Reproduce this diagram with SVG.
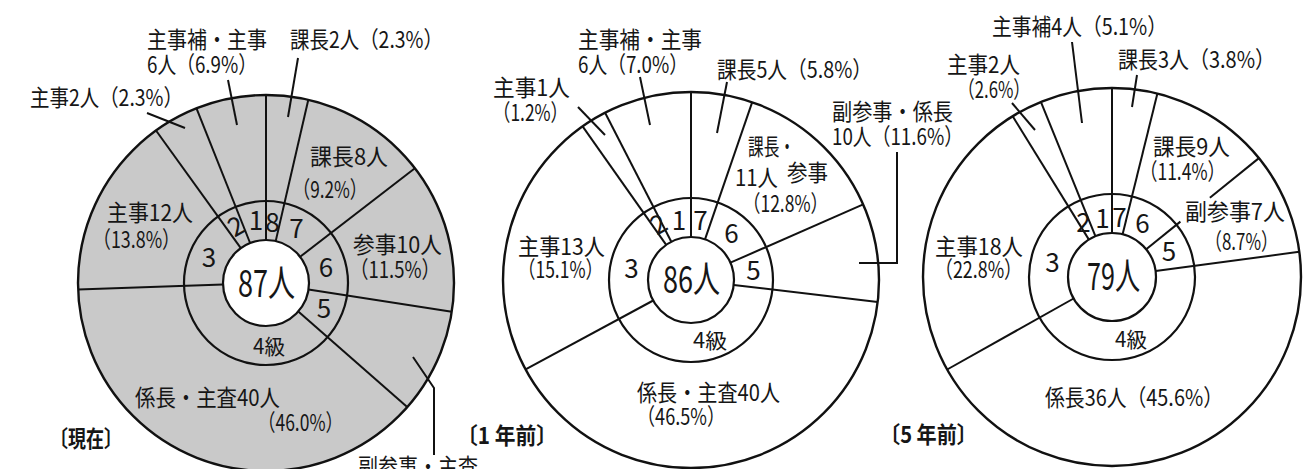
<svg xmlns="http://www.w3.org/2000/svg" width="1307" height="469" viewBox="0 0 1307 469">
<style>
text{font-family:"Noto Sans CJK JP","Noto Sans CJK SC",sans-serif;fill:#161616}
.lb{font-size:23px}
.g{font-size:26px;text-anchor:middle}
.c{font-size:37px}
.k{font-size:21px}
.t{font-size:23px;font-weight:bold}
.ring{fill:none;stroke:#111;stroke-width:2.2}
.ln{stroke:#111;stroke-width:2;fill:none}
</style>
<rect width="1307" height="469" fill="#fff"/>

<g id="chart-now">
<circle cx="266" cy="283" r="188" fill="#c9c9c9" stroke="#111" stroke-width="2.4"/>
<circle cx="266" cy="283" r="82" class="ring"/>
<circle cx="266" cy="283" r="43" fill="#fff" stroke="#111" stroke-width="2.2"/>
<g id="lines-now" class="ln">
<line x1="266" y1="240" x2="266" y2="95"/>
<line x1="275.7" y1="241.1" x2="308.3" y2="99.8"/>
<line x1="300.1" y1="256.8" x2="414.9" y2="168.3"/>
<line x1="308.5" y1="289.6" x2="451.8" y2="311.8"/>
<line x1="298.3" y1="311.4" x2="407.2" y2="407.1"/>
<line x1="223" y1="284.5" x2="78.1" y2="289.6"/>
<line x1="240.8" y1="248.1" x2="156" y2="130.5"/>
<line x1="250.1" y1="243" x2="196.5" y2="108.3"/>
<line x1="147" y1="113" x2="185" y2="128"/>
<line x1="228" y1="80" x2="237" y2="125"/>
<line x1="298" y1="58" x2="288" y2="117"/>
<polyline points="413,357 434,388 434,455"/>
</g>
<text class="lb" x="147" y="48" textLength="120" lengthAdjust="spacingAndGlyphs">主事補・主事</text>
<text class="lb" x="147" y="73" textLength="110" lengthAdjust="spacingAndGlyphs">6人（6.9%）</text>
<text class="lb" x="290" y="48" textLength="153" lengthAdjust="spacingAndGlyphs">課長2人（2.3%）</text>
<text class="lb" x="30" y="106" textLength="153" lengthAdjust="spacingAndGlyphs">主事2人（2.3%）</text>
<text class="lb" x="310" y="165" textLength="78" lengthAdjust="spacingAndGlyphs">課長8人</text>
<text class="lb" x="293" y="198" textLength="74" lengthAdjust="spacingAndGlyphs">（9.2%）</text>
<text class="lb" x="107" y="221" textLength="86" lengthAdjust="spacingAndGlyphs">主事12人</text>
<text class="lb" x="93" y="248" textLength="87" lengthAdjust="spacingAndGlyphs">（13.8%）</text>
<text class="lb" x="353" y="253" textLength="89" lengthAdjust="spacingAndGlyphs">参事10人</text>
<text class="lb" x="350" y="278" textLength="90" lengthAdjust="spacingAndGlyphs">（11.5%）</text>
<text class="lb" x="135" y="406" textLength="145" lengthAdjust="spacingAndGlyphs">係長・主査40人</text>
<text class="lb" x="258" y="431" textLength="85" lengthAdjust="spacingAndGlyphs">（46.0%）</text>
<text class="lb" x="358" y="475" textLength="120" lengthAdjust="spacingAndGlyphs">副参事・主査</text>
<text class="t" x="50" y="447" textLength="72" lengthAdjust="spacingAndGlyphs">〔現在〕</text>
<text class="g" x="236" y="235.5" transform="rotate(-30 236 226)">2</text>
<text class="g" x="256" y="230">1</text>
<text class="g" x="272.5" y="232">8</text>
<text class="g" x="296.5" y="238">7</text>
<text class="g" x="326" y="277">6</text>
<text class="g" x="324" y="318">5</text>
<text class="g" x="209" y="267">3</text>
<text class="c" x="238" y="297" textLength="57" lengthAdjust="spacingAndGlyphs">87人</text>
<text class="k" x="253" y="354" textLength="32" lengthAdjust="spacingAndGlyphs">4級</text>
</g>

<g id="chart-1y">
<circle cx="691" cy="280" r="188" fill="#fff" stroke="#111" stroke-width="2.4"/>
<circle cx="691" cy="280" r="82" class="ring"/>
<circle cx="691" cy="280" r="43" class="ring"/>
<g id="lines-1y" class="ln">
<line x1="691" y1="237" x2="691" y2="92"/>
<line x1="705" y1="239.3" x2="752.2" y2="102.2"/>
<line x1="730.4" y1="262.7" x2="863.2" y2="204.4"/>
<line x1="733.7" y1="285" x2="877.7" y2="301.9"/>
<line x1="653.2" y1="300.5" x2="525.6" y2="369.4"/>
<line x1="666.2" y1="244.9" x2="582.6" y2="126.4"/>
<line x1="671.3" y1="241.8" x2="605.1" y2="112.8"/>
<line x1="640" y1="77" x2="650" y2="125"/>
<line x1="727" y1="82" x2="717" y2="133"/>
<line x1="578" y1="107" x2="605" y2="135"/>
<polyline points="897,152 897,263 859,263"/>
</g>
<text class="lb" x="578" y="48" textLength="124" lengthAdjust="spacingAndGlyphs">主事補・主事</text>
<text class="lb" x="578" y="73" textLength="110" lengthAdjust="spacingAndGlyphs">6人（7.0%）</text>
<text class="lb" x="717" y="78" textLength="155" lengthAdjust="spacingAndGlyphs">課長5人（5.8%）</text>
<text class="lb" x="493" y="96" textLength="77" lengthAdjust="spacingAndGlyphs">主事1人</text>
<text class="lb" x="493" y="121" textLength="75" lengthAdjust="spacingAndGlyphs">（1.2%）</text>
<text class="lb" x="832" y="120" textLength="121" lengthAdjust="spacingAndGlyphs">副参事・係長</text>
<text class="lb" x="832" y="145" textLength="131" lengthAdjust="spacingAndGlyphs">10人（11.6%）</text>
<text class="lb" x="748" y="155" textLength="47" lengthAdjust="spacingAndGlyphs">課長・</text>
<text class="lb" x="735" y="186" textLength="43" lengthAdjust="spacingAndGlyphs">11人</text>
<text class="lb" x="787" y="181" textLength="41" lengthAdjust="spacingAndGlyphs">参事</text>
<text class="lb" x="743" y="212" textLength="85" lengthAdjust="spacingAndGlyphs">（12.8%）</text>
<text class="lb" x="518" y="255" textLength="87" lengthAdjust="spacingAndGlyphs">主事13人</text>
<text class="lb" x="518" y="278" textLength="85" lengthAdjust="spacingAndGlyphs">（15.1%）</text>
<text class="lb" x="637" y="401" textLength="143" lengthAdjust="spacingAndGlyphs">係長・主査40人</text>
<text class="lb" x="637" y="425" textLength="88" lengthAdjust="spacingAndGlyphs">（46.5%）</text>
<text class="t" x="457" y="444" textLength="100" lengthAdjust="spacingAndGlyphs">〔1 年前〕</text>
<text class="g" x="658.5" y="233.5" transform="rotate(-30 658.5 224)">2</text>
<text class="g" x="679" y="230">1</text>
<text class="g" x="700.5" y="230">7</text>
<text class="g" x="731.5" y="243">6</text>
<text class="g" x="753.5" y="280">5</text>
<text class="g" x="631.5" y="278">3</text>
<text class="c" x="663" y="293" textLength="57" lengthAdjust="spacingAndGlyphs">86人</text>
<text class="k" x="693" y="348" textLength="34" lengthAdjust="spacingAndGlyphs">4級</text>
</g>

<g id="chart-5y">
<circle cx="1112" cy="277" r="189" fill="#fff" stroke="#111" stroke-width="2.4"/>
<circle cx="1112" cy="277" r="83" class="ring"/>
<circle cx="1112" cy="277" r="44" class="ring"/>
<g id="lines-5y" class="ln">
<line x1="1112" y1="233" x2="1112" y2="88"/>
<line x1="1122.6" y1="234.3" x2="1157.4" y2="93.5"/>
<line x1="1146.2" y1="249.3" x2="1180.4" y2="221.6"/>
<line x1="1209.9" y1="197.7" x2="1258.9" y2="158.1"/>
<line x1="1155.6" y1="271.1" x2="1299.3" y2="251.7"/>
<line x1="1073.6" y1="298.5" x2="947.2" y2="369.5"/>
<line x1="1088.9" y1="239.6" x2="1012.7" y2="116.2"/>
<line x1="1095.4" y1="236.2" x2="1040.9" y2="101.9"/>
<line x1="1072" y1="42" x2="1082" y2="123"/>
<line x1="1137" y1="75" x2="1132" y2="107"/>
<line x1="1012" y1="103" x2="1035" y2="130"/>
</g>
<text class="lb" x="992" y="35" textLength="175" lengthAdjust="spacingAndGlyphs">主事補4人（5.1%）</text>
<text class="lb" x="1118" y="68" textLength="157" lengthAdjust="spacingAndGlyphs">課長3人（3.8%）</text>
<text class="lb" x="947" y="73" textLength="73" lengthAdjust="spacingAndGlyphs">主事2人</text>
<text class="lb" x="958" y="98" textLength="72" lengthAdjust="spacingAndGlyphs">（2.6%）</text>
<text class="lb" x="1153" y="155" textLength="77" lengthAdjust="spacingAndGlyphs">課長9人</text>
<text class="lb" x="1140" y="180" textLength="85" lengthAdjust="spacingAndGlyphs">（11.4%）</text>
<text class="lb" x="1185" y="220" textLength="100" lengthAdjust="spacingAndGlyphs">副参事7人</text>
<text class="lb" x="1205" y="250" textLength="73" lengthAdjust="spacingAndGlyphs">（8.7%）</text>
<text class="lb" x="935" y="255" textLength="88" lengthAdjust="spacingAndGlyphs">主事18人</text>
<text class="lb" x="935" y="278" textLength="87" lengthAdjust="spacingAndGlyphs">（22.8%）</text>
<text class="lb" x="1045" y="406" textLength="178" lengthAdjust="spacingAndGlyphs">係長36人（45.6%）</text>
<text class="t" x="880" y="443" textLength="97" lengthAdjust="spacingAndGlyphs">〔5 年前〕</text>
<text class="g" x="1083.5" y="232">2</text>
<text class="g" x="1102.5" y="228">1</text>
<text class="g" x="1119.5" y="227">7</text>
<text class="g" x="1142.5" y="233">6</text>
<text class="g" x="1169" y="261">5</text>
<text class="g" x="1052.5" y="272">3</text>
<text class="c" x="1087" y="290" textLength="53" lengthAdjust="spacingAndGlyphs">79人</text>
<text class="k" x="1115" y="347" textLength="32" lengthAdjust="spacingAndGlyphs">4級</text>
</g>
</svg>
